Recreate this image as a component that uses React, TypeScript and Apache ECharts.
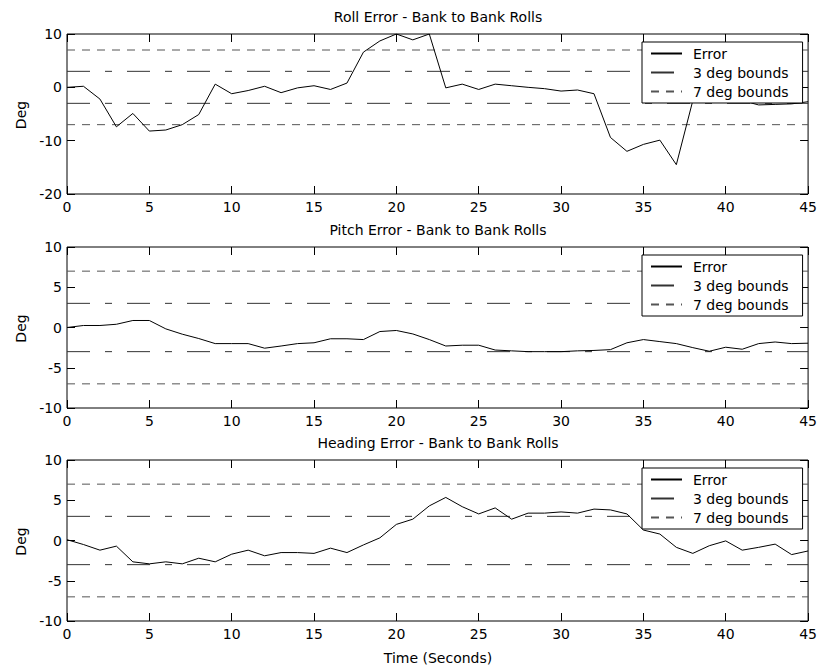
import React, { useEffect, useRef } from "react";
import * as echarts from "echarts";

const TIME = [0,1,2,3,4,5,6,7,8,9,10,11,12,13,14,15,16,17,18,19,20,21,22,23,24,25,26,27,28,29,30,31,32,33,34,35,36,37,38,39,40,41,42,43,44,45];

const ROLL_ERROR = [0, 0.2, -2.2, -7.4, -4.9, -8.2, -8.0, -7.0, -5.1, 0.6, -1.2, -0.6, 0.2, -1.0, -0.1, 0.3, -0.4, 0.8, 6.6, 8.7, 10, 8.9, 10, -0.1, 0.6, -0.4, 0.6, 0.3, 0, -0.25, -0.7, -0.5, -1.2, -9.4, -12.0, -10.7, -9.9, -14.5, -2.5, 1.5, -1.0, -2.5, -3.3, -3.2, -3.1, -2.7];

const PITCH_ERROR = [0, 0.25, 0.25, 0.4, 0.87, 0.87, -0.17, -0.83, -1.37, -2.0, -2.0, -2.0, -2.57, -2.3, -2.0, -1.9, -1.4, -1.4, -1.5, -0.5, -0.37, -0.8, -1.5, -2.3, -2.2, -2.2, -2.8, -2.9, -3.0, -3.0, -3.0, -2.9, -2.85, -2.75, -1.9, -1.5, -1.75, -2.0, -2.5, -2.95, -2.45, -2.7, -2.0, -1.8, -2.0, -1.95];

const HEADING_ERROR = [0.1, -0.5, -1.2, -0.7, -2.65, -2.9, -2.65, -2.9, -2.2, -2.65, -1.7, -1.2, -1.9, -1.5, -1.5, -1.6, -0.95, -1.5, -0.55, 0.33, 2.0, 2.65, 4.3, 5.35, 4.2, 3.3, 4.05, 2.65, 3.4, 3.4, 3.55, 3.4, 3.9, 3.8, 3.3, 1.3, 0.8, -0.85, -1.6, -0.65, -0.05, -1.2, -0.85, -0.45, -1.75, -1.3];

const BOUNDS_3 = [3, -3];
const BOUNDS_7 = [7, -7];

const TITLES = [
  "Roll Error - Bank to Bank Rolls",
  "Pitch Error - Bank to Bank Rolls",
  "Heading Error - Bank to Bank Rolls",
];
const LEGEND_NAMES = ["Error", "3 deg bounds", "7 deg bounds"];
const Y_RANGES = [
  { min: -20, max: 10, interval: 10 },
  { min: -10, max: 10, interval: 5 },
  { min: -10, max: 10, interval: 5 },
];
const X_RANGE = { min: 0, max: 45, interval: 5 };
const Y_NAME = "Deg";
const X_NAME = "Time (Seconds)";

const FONT = "DejaVu Sans";

export default function App() {
  const ref = useRef<HTMLDivElement>(null);
  useEffect(() => {
    document.body.style.margin = "0";
    if (!ref.current) return;
    const chart = echarts.init(ref.current, null, { renderer: "svg" });

    const grids = [
      { left: 67, top: 34, width: 742, height: 160 },
      { left: 67, top: 247, width: 742, height: 161 },
      { left: 67, top: 460, width: 742, height: 161 },
    ];
    const datasets = [ROLL_ERROR, PITCH_ERROR, HEADING_ERROR];

    const labelStyle = { fontFamily: FONT, fontSize: 14, color: "#000" };
    const tick = { show: true, inside: true, length: 8, lineStyle: { color: "#000" } };
    const xAxes: any[] = [];
    const yAxes: any[] = [];
    const series: any[] = [];
    const legends: any[] = [];
    const graphics: any[] = [];

    grids.forEach((g, i) => {
      xAxes.push({
        type: "value", gridIndex: i, position: "bottom",
        min: X_RANGE.min, max: X_RANGE.max, interval: X_RANGE.interval,
        axisLine: { show: false, onZero: false },
        axisTick: tick,
        axisLabel: { show: true, margin: 6, ...labelStyle },
        splitLine: { show: false },
      });
      yAxes.push({
        type: "value", gridIndex: i, position: "left",
        min: Y_RANGES[i].min, max: Y_RANGES[i].max, interval: Y_RANGES[i].interval,
        axisLine: { show: false, onZero: false },
        axisTick: tick,
        axisLabel: { show: true, margin: 5, ...labelStyle },
        splitLine: { show: false },
      });
    });
    grids.forEach((g, i) => {
      xAxes.push({
        type: "value", gridIndex: i, position: "top",
        min: X_RANGE.min, max: X_RANGE.max, interval: X_RANGE.interval,
        axisLine: { show: false, onZero: false },
        axisTick: tick,
        axisLabel: { show: false },
        splitLine: { show: false },
      });
      yAxes.push({
        type: "value", gridIndex: i, position: "right",
        min: Y_RANGES[i].min, max: Y_RANGES[i].max, interval: Y_RANGES[i].interval,
        axisLine: { show: false, onZero: false },
        axisTick: tick,
        axisLabel: { show: false },
        splitLine: { show: false },
      });
    });

    grids.forEach((g, i) => {
      series.push({
        type: "line", name: LEGEND_NAMES[0], xAxisIndex: i, yAxisIndex: i,
        data: TIME.map((t, k) => [t, datasets[i][k]]),
        symbol: "none", showSymbol: false,
        lineStyle: { color: "#000", width: 1 },
        itemStyle: { color: "#000" },
        z: 3,
      });
      BOUNDS_3.forEach((b) => {
        series.push({
          type: "line", name: LEGEND_NAMES[1], xAxisIndex: i, yAxisIndex: i,
          data: [[X_RANGE.min, b], [X_RANGE.max, b]],
          symbol: "none", showSymbol: false,
          lineStyle: { color: "#333", width: 1, type: [23, 15, 7, 15] },
          itemStyle: { color: "#333" },
          z: 2,
        });
      });
      BOUNDS_7.forEach((b) => {
        series.push({
          type: "line", name: LEGEND_NAMES[2], xAxisIndex: i, yAxisIndex: i,
          data: [[X_RANGE.min, b], [X_RANGE.max, b]],
          symbol: "none", showSymbol: false,
          lineStyle: { color: "#555", width: 1, type: [8, 7] },
          itemStyle: { color: "#555" },
          z: 2,
        });
      });
      legends.push({
        data: LEGEND_NAMES,
        orient: "vertical",
        left: 642, top: g.top + 8,
        padding: [4.5, 14, 4.5, 8],
        itemWidth: 31, itemHeight: 14, itemGap: 5,
        backgroundColor: "#fff",
        borderColor: "#000", borderWidth: 1,
        selectedMode: false,
        itemStyle: { opacity: 0 },
        textStyle: { fontFamily: FONT, fontSize: 14, color: "#000", lineHeight: 14, padding: [0, 0, 0, 6] },
        z: 10,
      });
      graphics.push({
        type: "text", x: 438, y: g.top - 17,
        style: { text: TITLES[i], fontFamily: FONT, fontSize: 14, fill: "#000", textAlign: "center", textVerticalAlign: "middle" },
      });
      graphics.push({
        type: "text", x: 21, y: g.top + g.height / 2 + 1, rotation: Math.PI / 2,
        style: { text: Y_NAME, fontFamily: FONT, fontSize: 14, fill: "#000", textAlign: "center", textVerticalAlign: "middle" },
      });
    });
    graphics.push({
      type: "text", x: 438, y: 658,
      style: { text: X_NAME, fontFamily: FONT, fontSize: 14, fill: "#000", textAlign: "center", textVerticalAlign: "middle" },
    });

    chart.setOption({
      animation: false,
      backgroundColor: "#fff",
      grid: grids.map((g) => ({ ...g, show: true, borderColor: "#000", borderWidth: 1, backgroundColor: "transparent" })),
      xAxis: xAxes,
      yAxis: yAxes,
      legend: legends,
      series,
      graphic: graphics,
    });
    return () => chart.dispose();
  }, []);
  return <div ref={ref} style={{ width: 820, height: 666 }} />;
}
